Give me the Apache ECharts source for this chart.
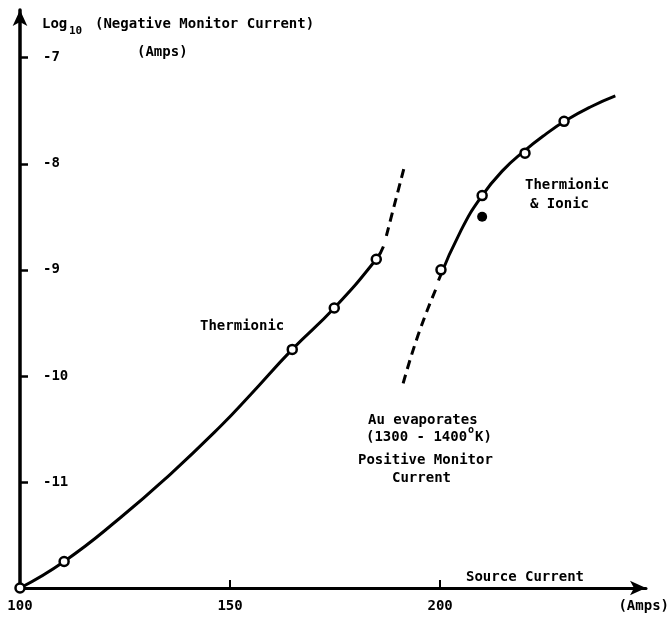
<!DOCTYPE html>
<html>
<head>
<meta charset="utf-8">
<script src="https://cdn.jsdelivr.net/npm/echarts@6/dist/echarts.min.js"></script>
<style>
  html, body { margin: 0; padding: 0; background: #fff; }
  #chart { width: 670px; height: 619px; }
</style>
</head>
<body>
<div id="chart"></div>
<script>
// ── Data ───────────────────────────────────────────────
const xTicks = [150, 200];
const xLabels = [100, 150, 200];
const yTicks = [-11, -10, -9, -8, -7];

// measured points (source current, log10 current)
const thermionicPts = [[100, -12], [110.5, -11.75], [164.8, -9.75], [174.8, -9.36], [184.8, -8.90]];
const ionicPts      = [[200.2, -9.0], [210, -8.30], [220.2, -7.90], [229.5, -7.60]];
const positivePts   = [[210, -8.5]];

// drawn curves
const thermionicCurve = [[100, -12], [110.5, -11.75], [123.8, -11.34], [135.7, -10.93], [147.6, -10.48],
                         [154.8, -10.18], [164.8, -9.75], [174.8, -9.36], [184.8, -8.90], [186.5, -8.78]];
const thermionicDash  = [[187.2, -8.68], [189.3, -8.36], [191.4, -8.04]];
const ionicCurve      = [[199.6, -9.10], [205, -8.625], [210, -8.30], [215, -8.06], [220, -7.88],
                         [225, -7.725], [230, -7.59], [236, -7.46], [241.7, -7.36]];
const evapDash        = [[191.2, -10.07], [194.8, -9.61], [199.0, -9.18]];

// ── Style ──────────────────────────────────────────────
const FONT = "'DejaVu Sans Mono', monospace";
const txt = (x, y, text, opts = {}) => ({
  type: 'text', x, y,
  style: Object.assign({
    text, fill: '#000', font: `bold 14px ${FONT}`,
    align: 'left', verticalAlign: 'middle',
  }, opts),
});

const curve = (data, dashed) => ({
  type: 'line', data, smooth: true, symbol: 'none', silent: true,
  lineStyle: { color: '#000', width: 3, type: dashed ? [9, 6] : 'solid' },
  z: 2,
});

const chart = echarts.init(document.getElementById('chart'));

chart.setOption({
  backgroundColor: '#fff',
  animation: false,
  grid: { left: 20, right: 24, top: 10, bottom: 31 },

  xAxis: {
    type: 'value', min: 100, max: 249,
    splitLine: { show: false },
    axisLine: {
      onZero: false,
      lineStyle: { color: '#000', width: 3 },
      symbol: ['none', 'arrow'], symbolSize: [11, 16],
    },
    axisTick: { inside: true, length: 8, customValues: xTicks, lineStyle: { color: '#000', width: 2 } },
    axisLabel: {
      customValues: xLabels, margin: 11,
      color: '#000', fontFamily: FONT, fontSize: 14, fontWeight: 'bold',
    },
  },

  yAxis: {
    type: 'value', min: -12, max: -6.55,
    splitLine: { show: false },
    axisLine: {
      onZero: false,
      lineStyle: { color: '#000', width: 3.5 },
      symbol: ['none', 'arrow'], symbolSize: [11, 16],
    },
    axisTick: { inside: true, length: 8, customValues: yTicks, lineStyle: { color: '#000', width: 2.5 } },
    axisLabel: {
      inside: true, customValues: yTicks, margin: 23,
      color: '#000', fontFamily: FONT, fontSize: 14, fontWeight: 'bold',
      formatter: v => String(v),
    },
  },

  series: [
    curve(thermionicCurve, false),
    curve(thermionicDash, true),
    curve(ionicCurve, false),
    curve(evapDash, true),
    {
      type: 'scatter', data: thermionicPts.concat(ionicPts), symbol: 'circle', symbolSize: 9,
      itemStyle: { color: '#fff', borderColor: '#000', borderWidth: 2.5, opacity: 1 },
      z: 5, silent: true,
    },
    {
      type: 'scatter', data: positivePts, symbol: 'circle', symbolSize: 10,
      itemStyle: { color: '#000', opacity: 1 },
      z: 5, silent: true,
    },
  ],

  graphic: [
    txt(42, 24, 'Log'),
    txt(69, 31, '10', { font: `bold 11px ${FONT}` }),
    txt(95, 24, '(Negative Monitor Current)'),
    txt(137, 52, '(Amps)'),
    txt(669, 606, '(Amps)', { align: 'right' }),
    txt(466, 577, 'Source Current'),
    txt(200, 326, 'Thermionic'),
    txt(525, 185, 'Thermionic'),
    txt(530, 204, '& Ionic'),
    txt(368, 420, 'Au evaporates'),
    txt(366, 437, '(1300 - 1400'),
    txt(468, 430, 'o', { font: `bold 10px ${FONT}` }),
    txt(475, 437, 'K)'),
    txt(358, 460, 'Positive Monitor'),
    txt(392, 478, 'Current'),
  ],
});
</script>
</body>
</html>
